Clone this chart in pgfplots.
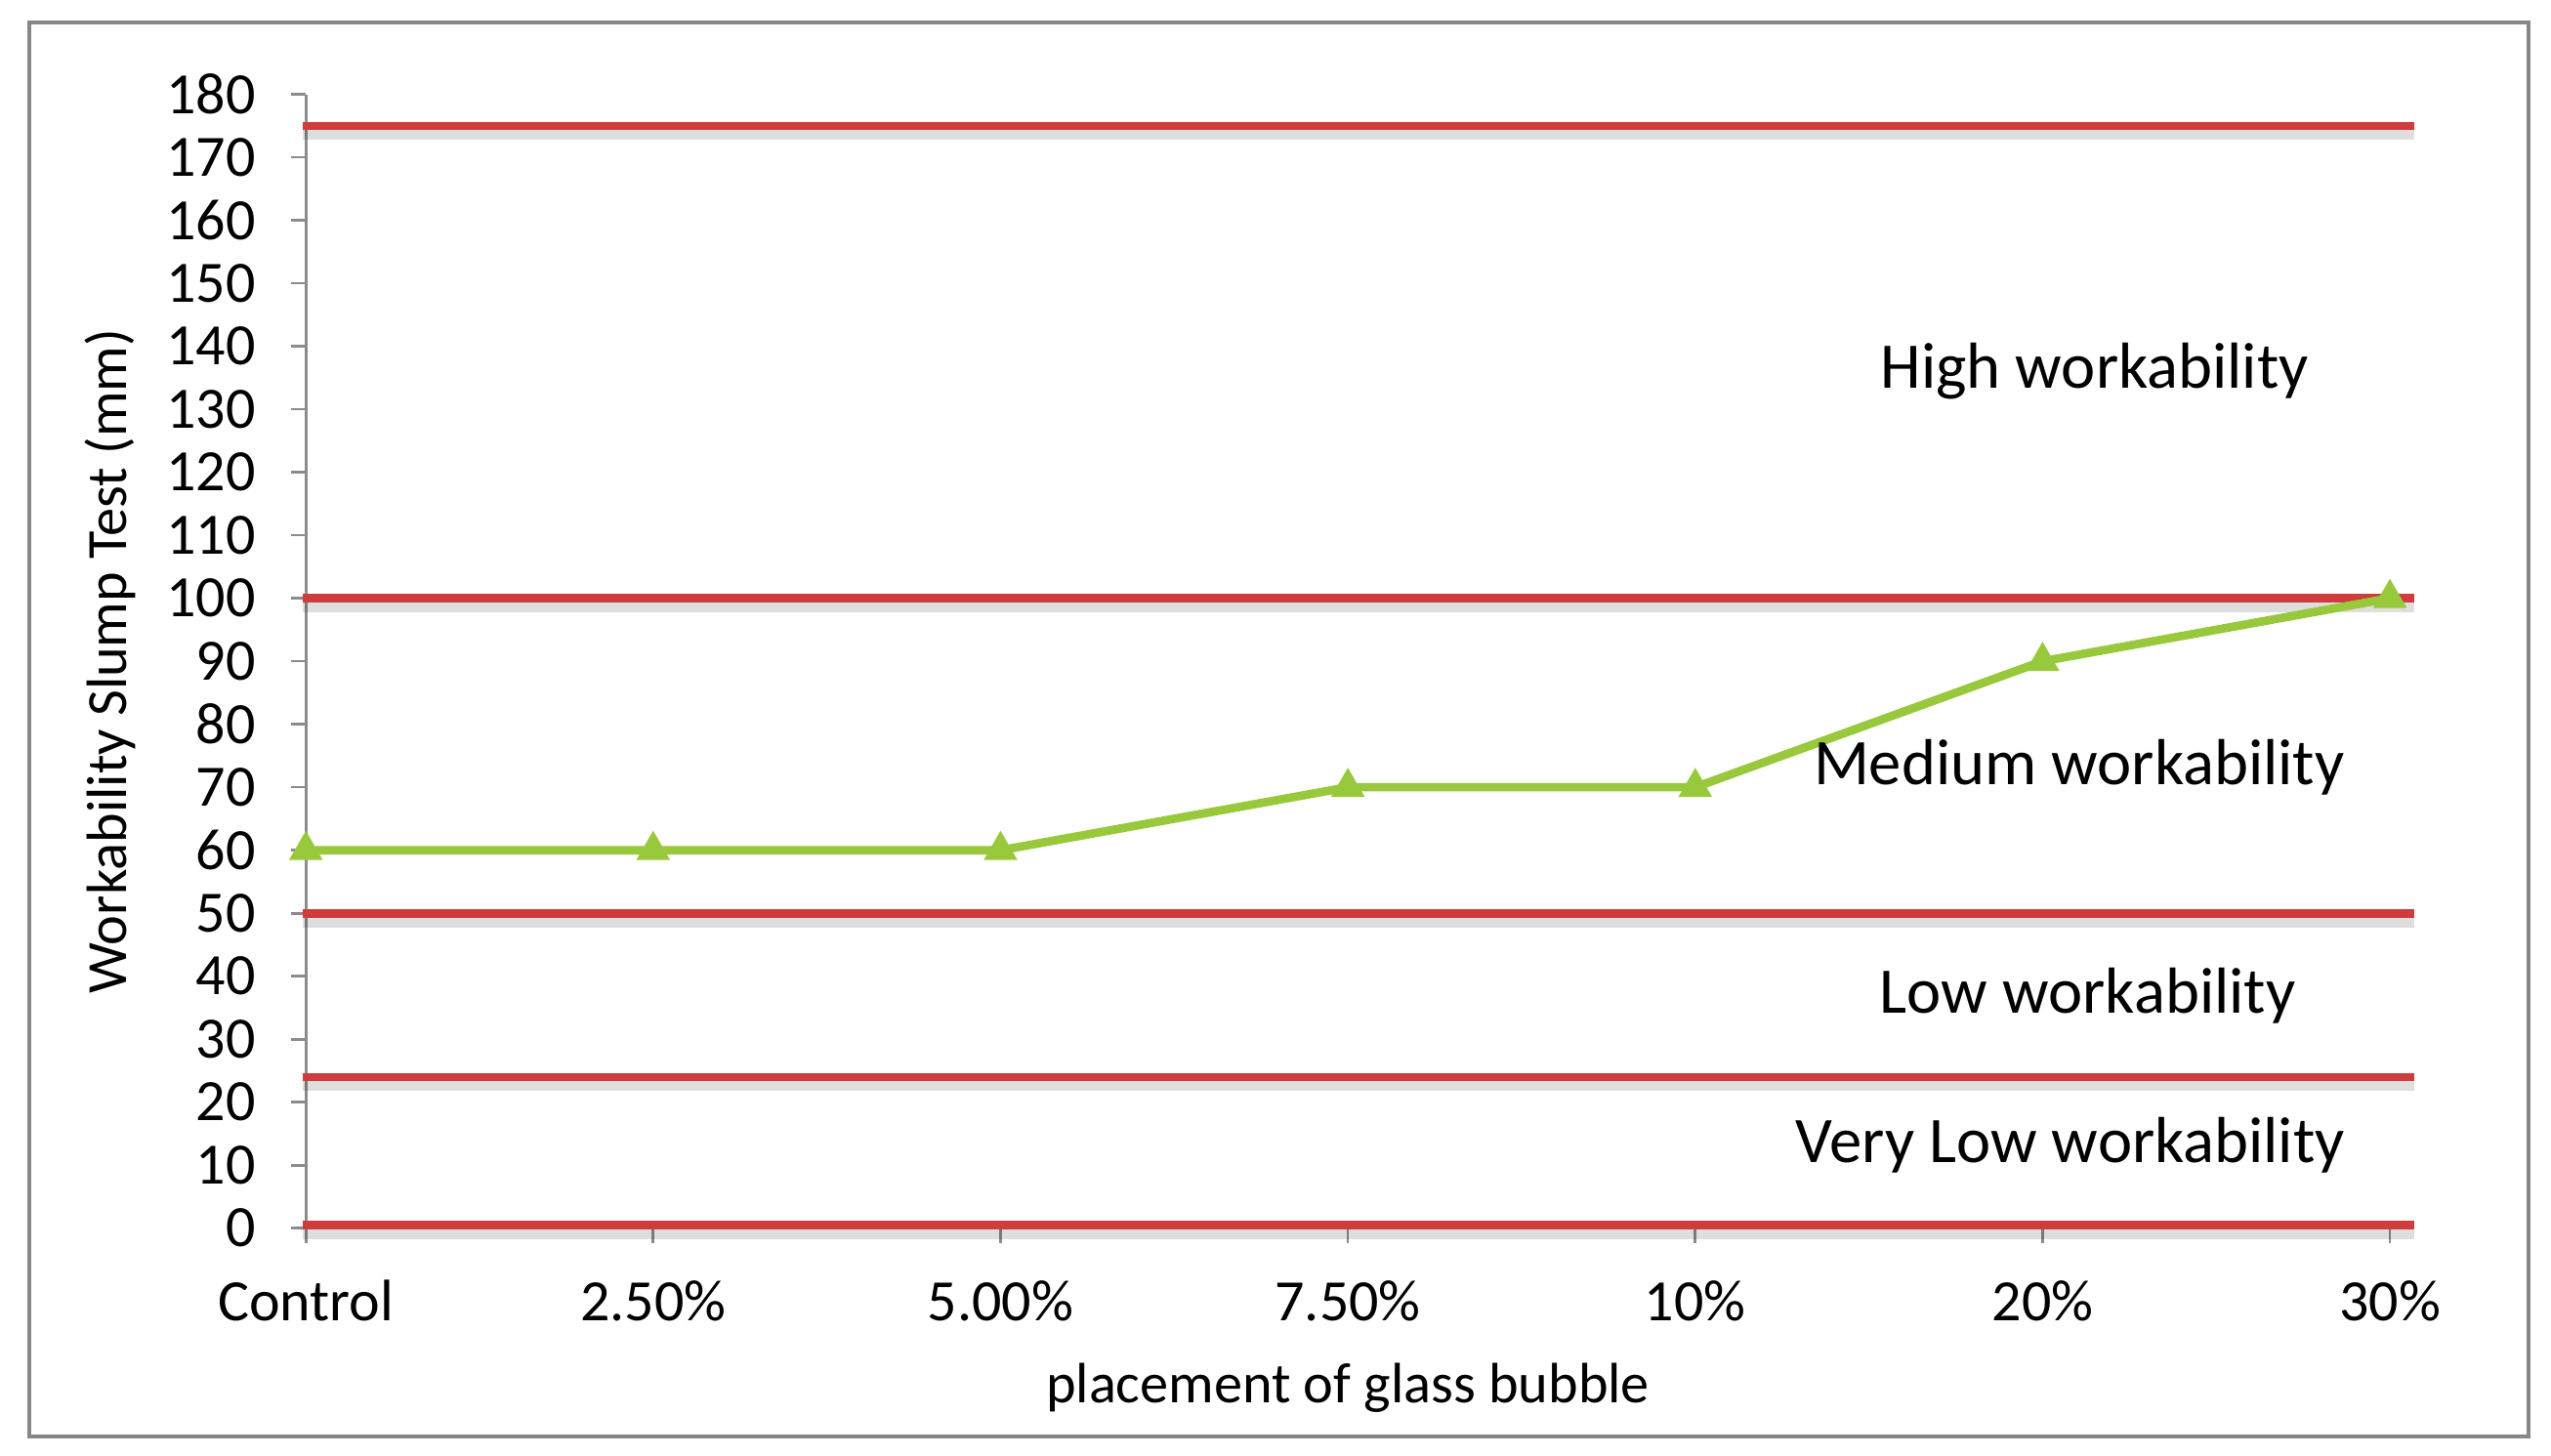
\documentclass[border=0pt]{standalone}
\usepackage{fontspec}
\setmainfont{Carlito}
\usepackage{pgfplots}
\pgfplotsset{compat=1.18}
\definecolor{limitred}{HTML}{D03C3C}
\definecolor{slumpgreen}{HTML}{98C93C}
\definecolor{axisgray}{HTML}{8C8C8C}
\definecolor{framegray}{HTML}{878787}

\pgfplotsset{
	limit/.style={limitred, line width=2.6pt, no markers},
	limitshadow/.style={black, opacity=0.13, line width=3.4pt, no markers, yshift=-2.6pt},
}

\begin{document}
\begin{tikzpicture}
	% page and outer frame
	\path[use as bounding box] (-94pt,-70pt) rectangle (690pt,377.5pt);
	\draw[framegray, line width=1.1pt] (-85pt,-64pt) rectangle (683pt,370.5pt);

	\begin{axis}[
		scale only axis,
		width=640.5pt, height=348.5pt,
		at={(0,0)}, anchor=south west,
		xmin=0, xmax=6,
		ymin=0, ymax=180,
		clip=false,
		axis lines*=left,
		axis line style={draw=axisgray, line width=0.8pt},
		tick style={draw=axisgray, line width=0.8pt},
		tick align=outside,
		major tick length=4.5pt,
		xtick={0,1,2,3,4,5,6},
		xticklabels={Control,2.50\%,5.00\%,7.50\%,10\%,20\%,30\%},
		ytick={0,10,...,180},
		/pgf/number format/assume math mode=true,
		tick label style={font=\fontsize{18}{20}\selectfont, black},
		xticklabel style={yshift=-8pt},
		yticklabel style={xshift=-7.5pt},
		xlabel={placement of glass bubble},
		ylabel={Workability Slump Test (mm)},
		every axis x label/.style={at={(axis description cs:0.5,0)}, anchor=center,
			yshift=-49pt, font=\fontsize{17.5}{20}\selectfont},
		every axis y label/.style={at={(axis description cs:0,0.5)}, anchor=center,
			xshift=-60pt, rotate=90, font=\fontsize{17.5}{20}\selectfont},
	]
		% shadows of the class limits
		\addplot[limitshadow] coordinates {(-0.01,175) (6.07,175)};
		\addplot[limitshadow] coordinates {(-0.01,100) (6.07,100)};
		\addplot[limitshadow] coordinates {(-0.01,50) (6.07,50)};
		\addplot[limitshadow] coordinates {(-0.01,24) (6.07,24)};
		\addplot[limitshadow] coordinates {(-0.01,0.5) (6.07,0.5)};

		% class limits
		\addplot[limit] coordinates {(-0.01,175) (6.07,175)};
		\addplot[limit] coordinates {(-0.01,100) (6.07,100)};
		\addplot[limit] coordinates {(-0.01,50) (6.07,50)};
		\addplot[limit] coordinates {(-0.01,24) (6.07,24)};
		\addplot[limit] coordinates {(-0.01,0.5) (6.07,0.5)};

		% slump test
		\addplot[slumpgreen, line width=2.6pt, mark=triangle*, mark size=3.4pt,
			mark options={solid, fill=slumpgreen, draw=slumpgreen}] coordinates {
			(0,60) (1,60) (2,60) (3,70) (4,70) (5,90) (6,100)
		};

		\node[font=\fontsize{20}{22}\selectfont] at (axis cs:5.15,136.1) {High workability};
		\node[font=\fontsize{20}{22}\selectfont] at (axis cs:5.105,73.1) {Medium workability};
		\node[font=\fontsize{20}{22}\selectfont] at (axis cs:5.13,36.9) {Low workability};
		\node[font=\fontsize{20}{22}\selectfont] at (axis cs:5.08,13.2) {Very Low workability};
	\end{axis}
\end{tikzpicture}
\end{document}
